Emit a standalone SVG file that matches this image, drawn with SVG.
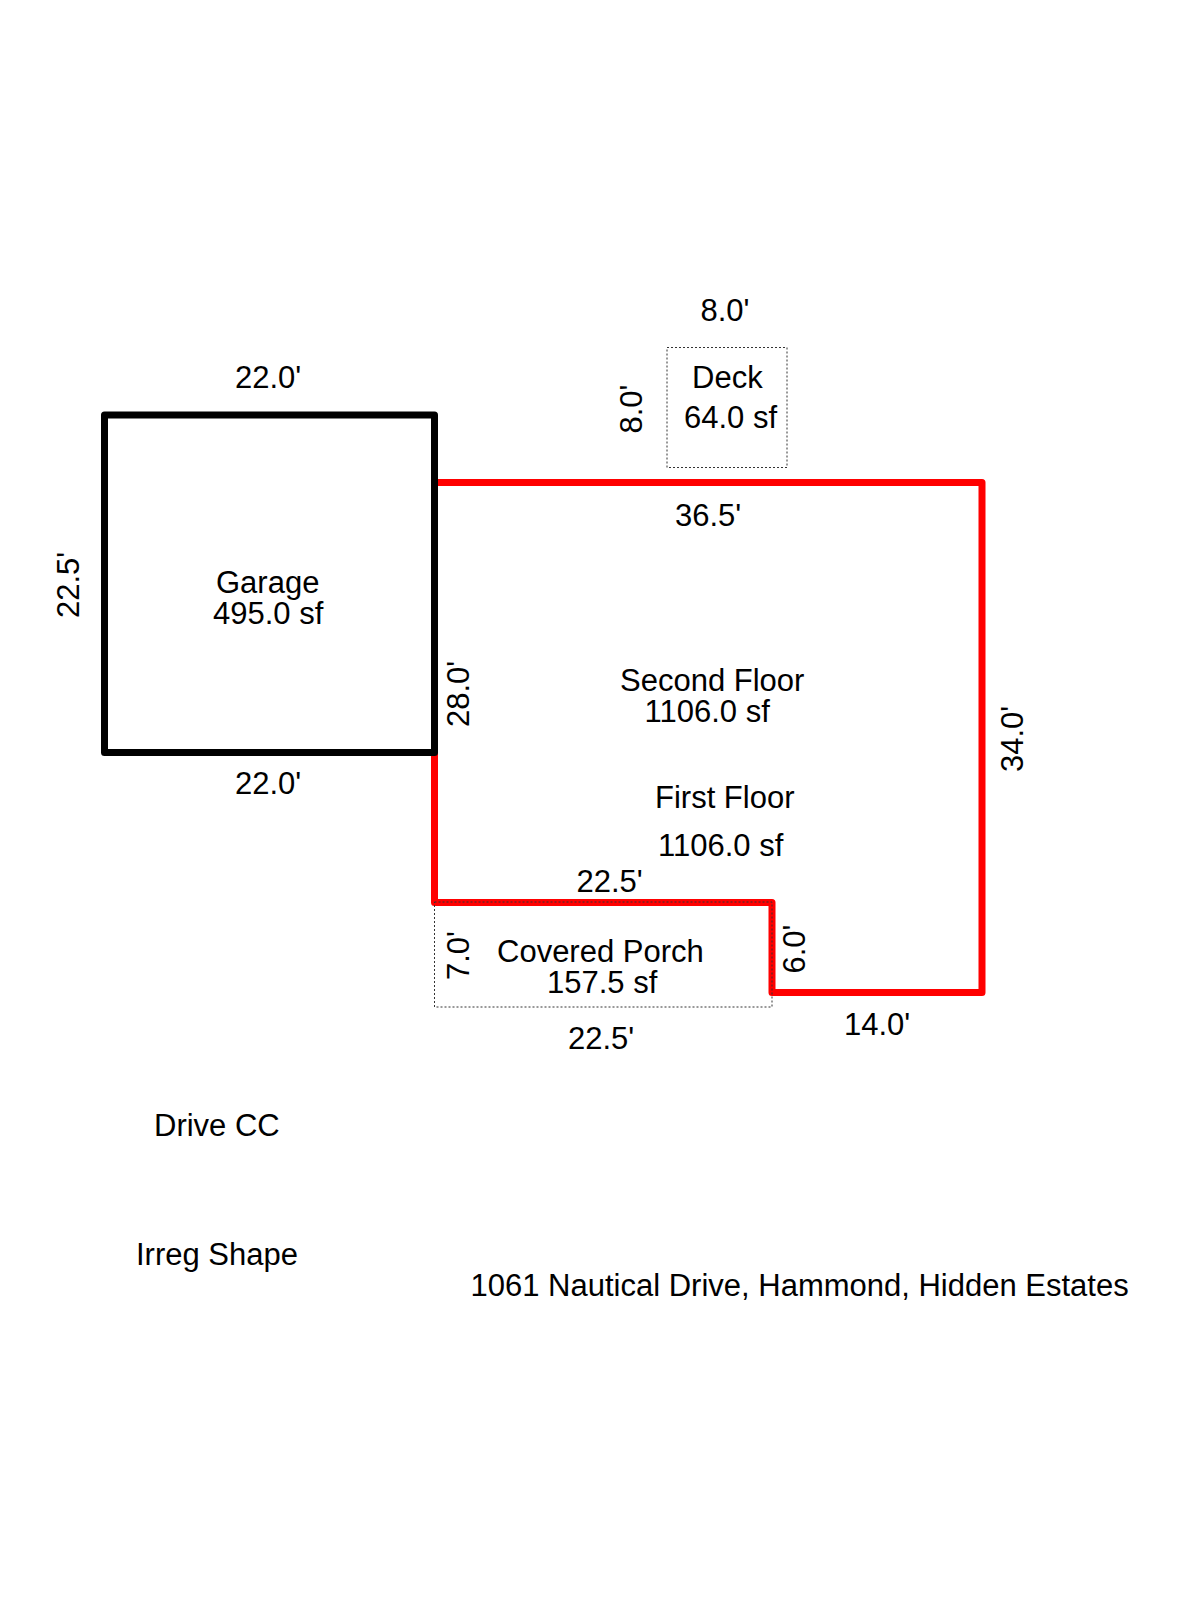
<svg xmlns="http://www.w3.org/2000/svg" width="1200" height="1600" viewBox="0 0 1200 1600">
<style>
text{font-family:"Liberation Sans",Arial,sans-serif;font-size:31px;fill:#000}
.wall{fill:none;stroke-width:7;stroke-linejoin:round;stroke-linecap:round}
.dash{fill:none;stroke:#333;stroke-width:1;stroke-dasharray:2 2}
</style>
<rect width="1200" height="1600" fill="#fff"/>
<g id="deck"><rect class="dash" x="667" y="347.5" width="120" height="120"/>
<text x="692" y="388">Deck</text><text x="684" y="428">64.0 sf</text>
<text x="700.5" y="321">8.0'</text><text transform="translate(642 433.5) rotate(-90)">8.0'</text></g>
<g id="floors"><path class="wall" stroke="#f00" d="M434.5 482.5H982V992.5H772V902.5H434.5V752"/>
<text x="620" y="691">Second Floor</text><text x="644.500" y="722">1106.0 sf</text>
<text x="655" y="808">First Floor</text><text x="658" y="856">1106.0 sf</text>
<text x="675" y="526">36.5'</text><text transform="translate(1023 772) rotate(-90)">34.0'</text>
<text x="576.500" y="892">22.5'</text><text x="844" y="1034.500">14.0'</text>
<text transform="translate(805 973.5) rotate(-90)">6.0'</text><text transform="translate(468.500 727) rotate(-90)">28.0'</text></g>
<g id="porch"><rect class="dash" x="434.5" y="902" width="337.5" height="105"/>
<text x="497" y="962">Covered Porch</text><text x="547" y="993">157.5 sf</text>
<text x="568" y="1049">22.5'</text><text transform="translate(468.500 980) rotate(-90)">7.0'</text></g>
<g id="garage"><rect class="wall" stroke="#000" x="104.5" y="415" width="330" height="337.5"/>
<text x="216" y="593">Garage</text><text x="213" y="624">495.0 sf</text>
<text x="235" y="387.5">22.0'</text><text x="235" y="794">22.0'</text>
<text transform="translate(79 618) rotate(-90)">22.5'</text></g>
<g id="notes"><text x="154" y="1136">Drive CC</text><text x="136" y="1265">Irreg Shape</text>
<text x="470.500" y="1296">1061 Nautical Drive, Hammond, Hidden Estates</text></g>
</svg>
